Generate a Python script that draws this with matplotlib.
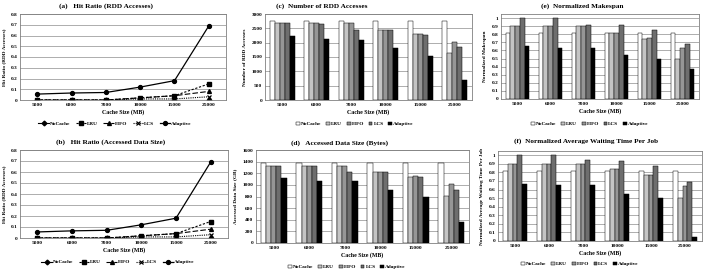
import matplotlib
matplotlib.use("Agg")
from matplotlib import pyplot as plt
import numpy as np

plt.rcParams['font.family'] = ['Liberation Serif', 'DejaVu Serif']
plt.rcParams['font.weight'] = 'bold'
plt.rcParams['axes.labelweight'] = 'bold'

cache_sizes = ["5000", "6000", "7000", "10000", "15000", "25000"]
policies = ["NoCache", "LRU", "FIFO", "LCS", "Adaptive"]

# hit ratio (line charts a and b)
hit_nocache = [0, 0, 0, 0, 0, 0]
hit_lru = [0, 0, 0, 0.02, 0.04, 0.15]
hit_fifo = [0, 0, 0, 0.02, 0.04, 0.08]
hit_lcs = [0, 0, 0, 0.01, 0.01, 0.03]
hit_adaptive = [0.055, 0.065, 0.07, 0.12, 0.18, 0.69]

# (c) number of RDD accesses
acc_nocache = [2770, 2770, 2770, 2770, 2770, 2770]
acc_lru = [2680, 2680, 2680, 2450, 2290, 1630]
acc_fifo = [2680, 2680, 2680, 2450, 2300, 2010]
acc_lcs = [2680, 2650, 2450, 2430, 2270, 1840]
acc_adaptive = [2220, 2130, 2110, 1800, 1550, 700]

# (d) accessed data size
size_nocache = [1380, 1380, 1380, 1380, 1380, 1380]
size_lru = [1330, 1330, 1330, 1220, 1140, 815]
size_fifo = [1330, 1330, 1330, 1230, 1150, 1010]
size_lcs = [1330, 1320, 1230, 1215, 1140, 920]
size_adaptive = [1110, 1070, 1060, 905, 785, 355]

# (e) normalized makespan
mk_nocache = [0.815, 0.815, 0.815, 0.815, 0.815, 0.815]
mk_lru = [0.9, 0.9, 0.9, 0.815, 0.74, 0.49]
mk_fifo = [0.9, 0.9, 0.9, 0.815, 0.75, 0.63]
mk_lcs = [1.0, 1.0, 0.92, 0.915, 0.85, 0.68]
mk_adaptive = [0.65, 0.63, 0.63, 0.54, 0.50, 0.37]

# (f) normalized average waiting time per job
wt_nocache = [0.815, 0.815, 0.815, 0.815, 0.815, 0.815]
wt_lru = [0.9, 0.9, 0.9, 0.835, 0.775, 0.50]
wt_fifo = [0.9, 0.9, 0.9, 0.835, 0.775, 0.64]
wt_lcs = [1.0, 1.0, 0.94, 0.93, 0.875, 0.69]
wt_adaptive = [0.67, 0.65, 0.655, 0.545, 0.50, 0.05]

W, H = 706, 272
fig = plt.figure(figsize=(W / 100, H / 100), dpi=100)


def box(x0, y0, x1, y1):
    return fig.add_axes([x0 / W, 1 - y1 / H, (x1 - x0) / W, (y1 - y0) / H])


def style(ax, title, title_xy, ylabel, ylim, yticks, yfmt):
    ax.set_ylim(*ylim)
    ax.set_yticks(yticks)
    ax.set_yticklabels([yfmt(v) for v in yticks], fontsize=3.8)
    ax.set_xlim(-0.5, 5.5)
    ax.set_xticks(range(6))
    ax.set_xticklabels(cache_sizes, fontsize=3.9)
    ax.tick_params(length=0, pad=2)
    fig.text(title_xy[0] / W, 1 - title_xy[1] / H, title, fontsize=5.2,
             ha="center", va="center")
    ax.set_ylabel(ylabel, fontsize=3.8, labelpad=3)
    ax.set_xlabel("Cache Size (MB)", fontsize=4.2, labelpad=1.5)
    ax.yaxis.grid(True, color="#a0a0a0", linewidth=0.6)
    ax.set_axisbelow(True)
    for s in ax.spines.values():
        s.set_color("#808080")
        s.set_linewidth(0.6)


def fmt_ratio(v):
    return "0" if v == 0 else ("%g" % round(v, 2))


def put_legend(ax, leg_xy, **kw):
    ax.legend(loc="center", bbox_to_anchor=(leg_xy[0] / W, 1 - leg_xy[1] / H),
              bbox_transform=fig.transFigure, ncol=5, frameon=False,
              fontsize=3.8, handletextpad=0.2, borderaxespad=0, **kw)


def line_panel(ax, title, title_xy, leg_xy):
    x = np.arange(6)
    ax.plot(x, hit_nocache, linestyle="-", marker="D", color="black", lw=0.8, ms=2.4, label="NoCache")
    ax.plot(x, hit_lru, linestyle=(0, (2, 1.5)), marker="s", color="black", lw=0.8, ms=2.6, label="LRU")
    ax.plot(x, hit_fifo, linestyle=(0, (5, 2)), marker="^", color="black", lw=0.8, ms=2.8, label="FIFO")
    ax.plot(x, hit_lcs, linestyle=(0, (1, 1)), marker="x", color="black", lw=0.8, ms=2.8, mew=0.9, label="LCS")
    ax.plot(x, hit_adaptive, linestyle="-", marker="o", color="black", lw=0.9, ms=2.8, label="Adaptive")
    style(ax, title, title_xy, "Hit Ratio (RDD Accesses)", (0, 0.8),
          np.round(np.arange(0, 0.81, 0.1), 1), fmt_ratio)
    put_legend(ax, leg_xy, handlelength=2.0, columnspacing=1.0)


bar_colors = ["white", "#c4c4c4", "#969696", "#6e6e6e", "black"]


def bar_panel(ax, title, title_xy, leg_xy, ylabel, series, ylim, yticks, yfmt, labelpad=3):
    x = np.arange(6)
    bw = 0.145
    for i, (vals, name) in enumerate(zip(series, policies)):
        ax.bar(x + (i - 2) * bw, vals, width=bw, color=bar_colors[i],
               edgecolor="black", linewidth=0.35, label=name)
    style(ax, title, title_xy, ylabel, ylim, yticks, yfmt)
    ax.yaxis.labelpad = labelpad
    put_legend(ax, leg_xy, handlelength=0.7, handleheight=0.7, columnspacing=0.9)


ax_a = box(20, 14, 226, 100)
line_panel(ax_a, "(a)   Hit Ratio (RDD Accesses)", (106, 6), (115, 124))
ax_b = box(20, 150, 228, 238)
line_panel(ax_b, "(b)   Hit Ratio (Accessed Data Size)", (111, 142), (118, 262))

ax_c = box(265, 14, 472, 100)
bar_panel(ax_c, "(c)  Number of RDD Accesses", (322, 6), (355, 124),
          "Number of RDD Accesses",
          [acc_nocache, acc_lru, acc_fifo, acc_lcs, acc_adaptive],
          (0, 3000), np.arange(0, 3001, 500), lambda v: "%d" % v)

ax_d = box(256, 150, 469, 243)
bar_panel(ax_d, "(d)   Accessed Data Size (Bytes)", (340, 143), (347, 267),
          "Accessed Data Size (GB)",
          [size_nocache, size_lru, size_fifo, size_lcs, size_adaptive],
          (0, 1600), np.arange(0, 1601, 200), lambda v: "%d" % v, labelpad=4)

ax_e = box(501, 14, 699, 99)
bar_panel(ax_e, "(e)  Normalized Makespan", (582, 6), (590, 124),
          "Normalized Makespan",
          [mk_nocache, mk_lru, mk_fifo, mk_lcs, mk_adaptive],
          (0, 1.05), np.round(np.arange(0, 1.01, 0.1), 1), fmt_ratio)

ax_f = box(498, 151, 702, 241)
bar_panel(ax_f, "(f)  Normalized Average Waiting Time Per Job", (586, 141), (580, 264),
          "Normalized Average Waiting Time Per Job",
          [wt_nocache, wt_lru, wt_fifo, wt_lcs, wt_adaptive],
          (0, 1.05), np.round(np.arange(0, 1.01, 0.1), 1), fmt_ratio)

plt.savefig("out.png", dpi=100)
